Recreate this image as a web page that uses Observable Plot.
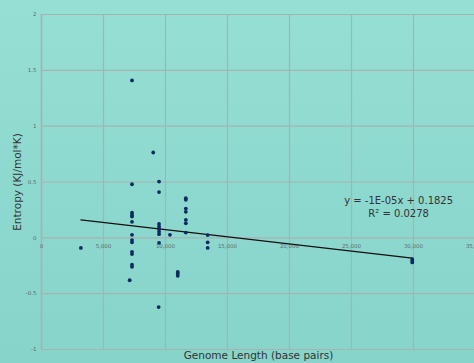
<!DOCTYPE html>
<html>
<head>
<meta charset="utf-8">
<script src="https://cdn.jsdelivr.net/npm/d3@7"></script>
<script src="https://cdn.jsdelivr.net/npm/@observablehq/plot@0.6"></script>
<style>
  html, body { margin: 0; padding: 0; width: 474px; height: 363px; overflow: hidden; }
  body { background: linear-gradient(180deg, #96dfd5 0%, #8ed9cf 50%, #87d4cb 100%); }
  svg { display: block; background: transparent !important; max-width: none !important; }
</style>
</head>
<body>
<div id="chart"></div>
<script>
// Genome length (base pairs) and entropy (KJ/mol*K)
const genomeLength = [
  3175,
  7110,
  7300, 7300, 7300, 7300, 7300, 7300, 7300, 7300, 7300, 7300, 7300, 7300, 7300,
  9010,
  9480, 9480, 9480, 9480, 9480, 9480, 9480, 9480, 9450,
  10360,
  10990, 10990, 10990,
  11640, 11640, 11640, 11640, 11640, 11640, 11640,
  13400, 13400, 13400,
  29900, 29900, 29900
];
const entropy = [
  -0.09,
  -0.38,
  1.41, 0.48, 0.225, 0.205, 0.19, 0.143, 0.027, -0.02, -0.04, -0.125, -0.145, -0.24, -0.26,
  0.764,
  0.504, 0.41, 0.125, 0.1, 0.08, 0.055, 0.033, -0.045, -0.62,
  0.027,
  -0.305, -0.32, -0.34,
  0.355, 0.34, 0.262, 0.233, 0.16, 0.13, 0.047,
  0.025, -0.04, -0.09,
  -0.19, -0.205, -0.22
];
const xTicks = [0, 5000, 10000, 15000, 20000, 25000, 30000, 35000];
const yTicks = [-1, -0.5, 0, 0.5, 1, 1.5, 2];
const yTickLabels = ["-1", "-0.5", "0", "0.5", "1", "1.5", "2"];
const xTitle = "Genome Length (base pairs)";
const yTitle = "Entropy (KJ/mol*K)";
const equationLines = ["y = -1E-05x + 0.1825", "R² = 0.0278"];
const equationAnchor = { x: 28800, y: [0.33, 0.218] };

const data = genomeLength.map((g, i) => ({ g, e: entropy[i] }));
const fmtX = d3.format(",");
const gridColor = "#a6b3b3";

const chart = Plot.plot({
  width: 480,
  height: 363,
  marginLeft: 41,
  marginRight: 5,
  marginTop: 14,
  marginBottom: 14,
  style: { background: "transparent", fontFamily: "DejaVu Sans", maxWidth: "none" },
  x: { domain: [0, 35000] },
  y: { domain: [-1, 2] },
  marks: [
    Plot.gridX(xTicks, { stroke: gridColor, strokeOpacity: 1, strokeWidth: 1.2 }),
    Plot.gridY(yTicks, { stroke: gridColor, strokeOpacity: 1, strokeWidth: 1.2 }),
    Plot.ruleX([0], { stroke: gridColor, strokeWidth: 1.5 }),
    Plot.axisY(yTicks, {
      tickSize: 0, tickPadding: 5, fontSize: 5.5, fill: "#5f6c6c",
      tickFormat: (d) => yTickLabels[yTicks.indexOf(d)], label: null
    }),
    Plot.axisX({ ticks: [], label: null, tickSize: 0 }),
    Plot.text(xTicks, {
      x: (d) => d, y: 0, text: (d) => fmtX(d), dy: 8,
      fontSize: 5.5, fill: "#5f6c6c", textAnchor: "middle"
    }),
    Plot.linearRegressionY(data, { x: "g", y: "e", stroke: "#111", strokeWidth: 1.2, ci: 0 }),
    Plot.dot(data, { x: "g", y: "e", r: 1.9, fill: "#0c2c5f", stroke: null }),
    Plot.text(equationLines, {
      x: () => equationAnchor.x, y: (d, i) => equationAnchor.y[i], text: (d) => d,
      fontSize: 10, fill: "#333", textAnchor: "middle"
    }),
    Plot.text([xTitle], {
      frameAnchor: "bottom", dy: 6, text: (d) => d, fontSize: 10.5, fill: "#333",
      textAnchor: "middle", lineAnchor: "middle"
    }),
    Plot.text([yTitle], {
      frameAnchor: "left", dx: -24, rotate: -90, text: (d) => d, fontSize: 10.5, fill: "#333",
      textAnchor: "middle", lineAnchor: "middle"
    })
  ]
});
chart.style.maxWidth = "none";
document.getElementById("chart").appendChild(chart);
</script>
</body>
</html>
